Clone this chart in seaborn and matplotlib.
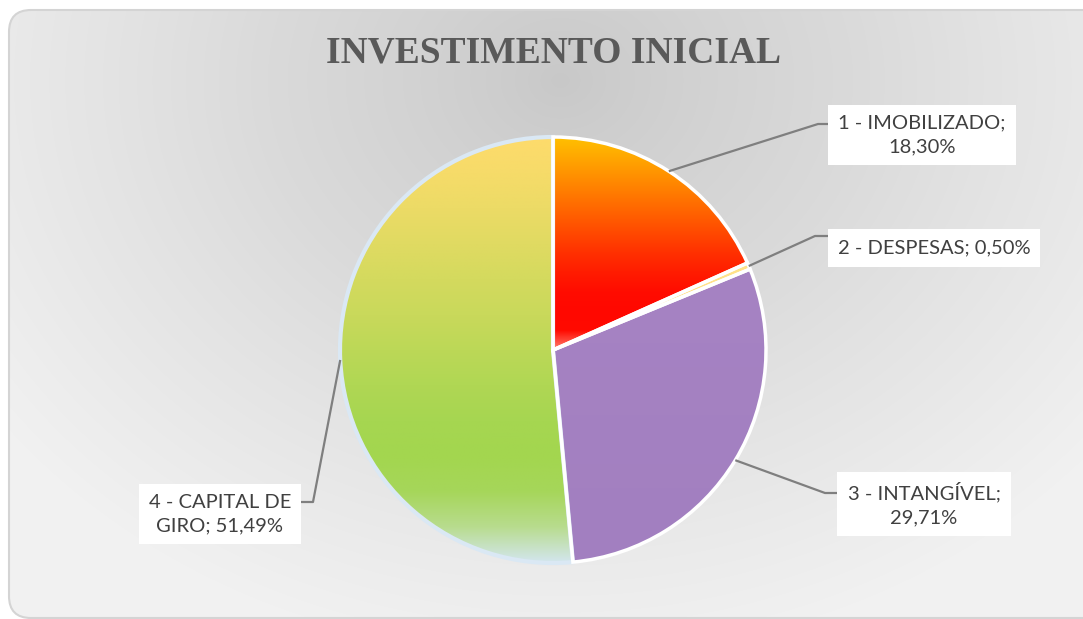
"""
Pie chart: INVESTIMENTO INICIAL (gradient slices, boxed labels with leader lines).
"""

import numpy as np
import matplotlib.pyplot as plt
import seaborn as sns
from matplotlib.patches import FancyBboxPatch

# data
categories = ["1 - IMOBILIZADO", "2 - DESPESAS", "3 - INTANGÍVEL", "4 - CAPITAL DE GIRO"]
shares = [18.30, 0.50, 29.71, 51.49]
label_texts = [
    "1 - IMOBILIZADO;\n18,30%",
    "2 - DESPESAS; 0,50%",
    "3 - INTANGÍVEL;\n29,71%",
    "4 - CAPITAL DE\nGIRO; 51,49%",
]
title = "INVESTIMENTO INICIAL"

# slice gradients (top -> bottom), evenly spaced stops
slice_colors = [
    ["#ffc000", "#ffa800", "#ff9000", "#ff7800", "#ff6000", "#ff4800",
     "#ff3000", "#ff1c00", "#ff0c00", "#ff0800", "#ff0a00", "#ff8070"],
    ["#ffe28a", "#ffe28a"],
    ["#a683c3", "#a27fc0"],
    ["#fedb6c", "#f6db69", "#ecdb66", "#e0da62", "#d4da5e", "#c9d95b",
     "#bcd857", "#b0d754", "#a6d651", "#a3d64f", "#a6d65a", "#b8dc8e", "#d3e6ee"],
]

W, H = 1083, 619

sns.set_theme(style="white")
plt.rcParams["font.family"] = ["Lato", "DejaVu Sans"]

fig = plt.figure(figsize=(W / 100, H / 100), dpi=100, facecolor="white")
ax = fig.add_axes([0, 0, 1, 1])
ax.set_axis_off()

# background card with a soft radial gradient
yy, xx = np.mgrid[0:H, 0:W]
dist = np.sqrt(((xx - 560) / 1.2) ** 2 + (yy - 80) ** 2)
bg = np.clip(dist / 580, 0, 1) ** 0.8
bg_cmap = sns.blend_palette(["#c8c8c8", "#dadada", "#f1f1f1"], as_cmap=True)
card = FancyBboxPatch((9, 1), W + 20, H - 11, boxstyle="round,pad=0,rounding_size=22",
                      facecolor="none", edgecolor="#d4d4d4", linewidth=1.5, zorder=1)
ax.add_patch(card)
img = ax.imshow(bg, cmap=bg_cmap, extent=(0, W, 0, H), origin="upper",
                aspect="auto", zorder=0, interpolation="bilinear")
img.set_clip_path(card)

# pie
center = (553, H - 350)
radius = 213
wedges, _ = ax.pie(shares, startangle=90, counterclock=False, center=center,
                   radius=radius, explode=[0, 0, 0.02, 0],
                   wedgeprops=dict(edgecolor="white", linewidth=2.5))

for i, (w, cols) in enumerate(zip(wedges, slice_colors)):
    ext = w.get_path().get_extents()
    grad = np.linspace(0, 1, 256)[:, None]
    cmap = sns.blend_palette(cols, as_cmap=True)
    im = ax.imshow(grad, cmap=cmap, extent=(ext.x0, ext.x1, ext.y0, ext.y1),
                   origin="upper", aspect="auto", zorder=2, interpolation="bilinear")
    im.set_clip_path(w)
    w.set_facecolor("none")
    w.set_zorder(4)
wedges[3].set_edgecolor("#dae8f4")
wedges[3].set_linewidth(3.0)
wedges[3].set_zorder(3)

# labels with leader lines
label_pos = [(922, 135), (934, 248), (924, 504), (220, 514)]
elbows = [(818, 124), (815, 236), (825, 493), (313, 502)]
for w, txt, (lx, ly), (ex, ey) in zip(wedges, label_texts, label_pos, elbows):
    ang = np.deg2rad((w.theta1 + w.theta2) / 2)
    cx, cy = w.center
    px = cx + w.r * np.cos(ang)
    py = cy + w.r * np.sin(ang)
    ax.plot([px, ex, lx], [py, H - ey, H - ey], color="#7f7f7f", lw=1.6,
            zorder=5, solid_capstyle="butt")
    ax.text(lx, H - ly, txt, ha="center", va="center", fontsize=14.5,
            color="#404040", linespacing=1.45, zorder=6,
            bbox=dict(boxstyle="square,pad=0.5", facecolor="white", edgecolor="none"))

ax.text(553, H - 53, title, ha="center", va="center", fontsize=27,
        fontweight="bold", family="Liberation Serif", color="#595959", zorder=6)

ax.set_xlim(0, W)
ax.set_ylim(0, H)

fig.savefig("out.png", dpi=100, facecolor="white")
plt.close(fig)
